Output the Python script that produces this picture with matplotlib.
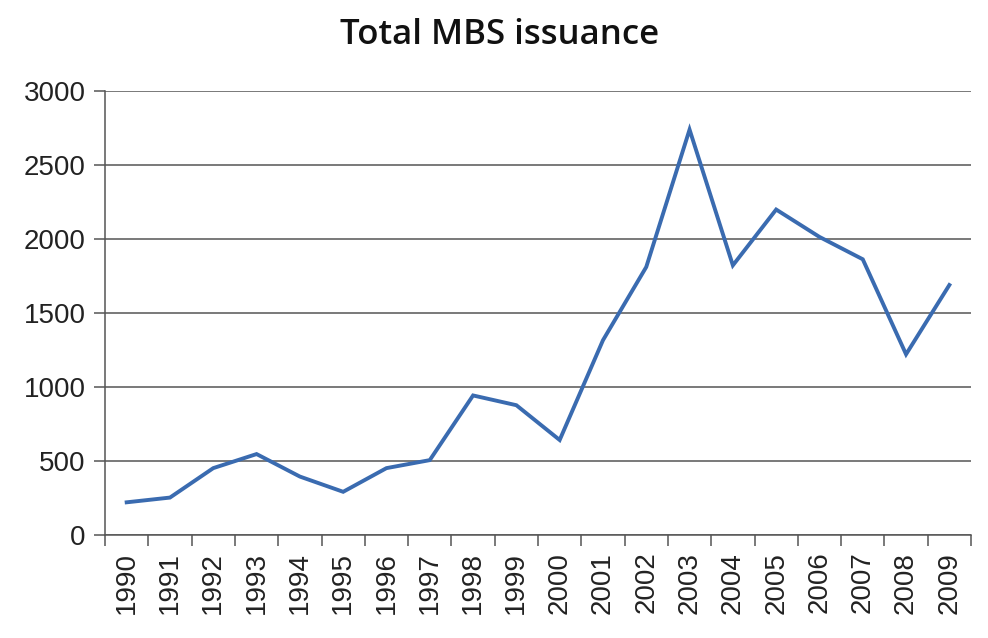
import matplotlib.pyplot as plt
import numpy as np

# ===== Data =====
years = ['1990', '1991', '1992', '1993', '1994', '1995', '1996', '1997', '1998', '1999',
         '2000', '2001', '2002', '2003', '2004', '2005', '2006', '2007', '2008', '2009']
issuance = [221, 253, 452, 547, 395, 292, 452, 506, 943, 877,
            642, 1316, 1811, 2739, 1822, 2199, 2014, 1863, 1221, 1689]
y_ticks = [0, 500, 1000, 1500, 2000, 2500, 3000]

line_color = '#3a6bb0'
grid_color = '#555555'
text_color = '#222222'

# ===== Figure =====
fig = plt.figure(figsize=(9.88, 6.38), dpi=100)
ax = fig.add_axes([0.1063, 0.1614, 0.8765, 0.696])

x = np.arange(len(years))
ax.plot(x, issuance, color=line_color, linewidth=2.8, solid_joinstyle='miter')

ax.set_xlim(-0.5, len(years) - 0.5)
ax.set_ylim(0, 3000)

# y axis: horizontal gridlines with outward ticks
ax.set_yticks(y_ticks)
ax.set_yticklabels([str(v) for v in y_ticks], fontsize=20, color=text_color,
                   family='Liberation Sans')
ax.yaxis.grid(True, color=grid_color, linewidth=1.1)
ax.set_axisbelow(True)
ax.tick_params(axis='y', length=8, width=1.1, color=grid_color, pad=6)

# x axis: Excel style, ticks between categories, labels centred
ax.set_xticks(np.arange(-0.5, len(years), 1.0))
ax.set_xticklabels([])
ax.set_xticks(x, minor=True)
ax.set_xticklabels(years, minor=True, rotation=90, fontsize=20, color=text_color,
                   family='Liberation Sans')
ax.tick_params(axis='x', which='major', length=8, width=1.1, color=grid_color)
ax.tick_params(axis='x', which='minor', length=0, pad=12)

for side in ['top', 'right']:
    ax.spines[side].set_visible(False)
for side in ['left', 'bottom']:
    ax.spines[side].set_color(grid_color)
    ax.spines[side].set_linewidth(1.1)

fig.text(0.506, 0.945, 'Total MBS issuance', ha='center', va='center',
         fontsize=25, fontweight='semibold', family=['Open Sans', 'DejaVu Sans'],
         color='#111111')

plt.savefig('out.png')
